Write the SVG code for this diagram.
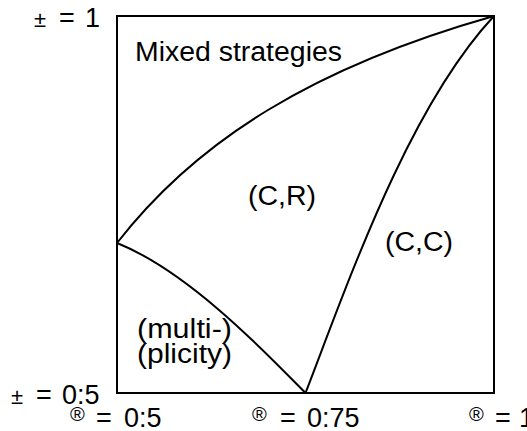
<svg xmlns="http://www.w3.org/2000/svg" width="527" height="431" viewBox="0 0 527 431">
<style>
.ln{fill:none;stroke:#000;stroke-width:2}
.t{font-family:"Liberation Sans",Arial,sans-serif;font-size:27px;fill:#000}
.m{font-family:"Liberation Sans",Arial,sans-serif;font-size:27px;fill:#000}
.s{font-size:20px}
.p{font-size:22px}
</style>
<rect width="527" height="431" fill="#fff"/>
<g id="frame">
<rect class="ln" x="117" y="16" width="377" height="377"/>
</g>
<g id="curves">
<path id="upper" class="ln" d="M117,243 C197,140 314,67 494,16"/>
<path id="right" class="ln" d="M305.5,393 C348,283 408,108 494,16"/>
<path id="lower" class="ln" d="M117,243 C190,272 270,357 305.5,393"/>
</g>
<g id="labels">
<text class="t" x="135" y="61" textLength="207" lengthAdjust="spacingAndGlyphs">Mixed strategies</text>
<text class="t" x="248" y="205" textLength="68" lengthAdjust="spacingAndGlyphs">(C,R)</text>
<text class="t" x="385" y="251" textLength="68" lengthAdjust="spacingAndGlyphs">(C,C)</text>
<text class="t" x="137" y="338" textLength="95" lengthAdjust="spacingAndGlyphs">(multi-)</text>
<text class="t" x="137" y="363" textLength="95" lengthAdjust="spacingAndGlyphs">(plicity)</text>
</g>
<g id="axis-labels">
<text class="m" y="27"><tspan class="p" x="34">±</tspan><tspan x="59">=</tspan><tspan x="85">1</tspan></text>
<text class="m" y="404"><tspan class="p" x="11">±</tspan><tspan x="36">=</tspan><tspan x="62">0:5</tspan></text>
<text class="m"><tspan class="s" x="70" y="421">®</tspan><tspan x="96" y="427">=</tspan><tspan x="124" y="427">0:5</tspan></text>
<text class="m"><tspan class="s" x="252" y="421">®</tspan><tspan x="280" y="427">=</tspan><tspan x="307" y="427">0:75</tspan></text>
<text class="m"><tspan class="s" x="469" y="421">®</tspan><tspan x="495" y="427">=</tspan><tspan x="519" y="427">1</tspan></text>
</g>
</svg>
